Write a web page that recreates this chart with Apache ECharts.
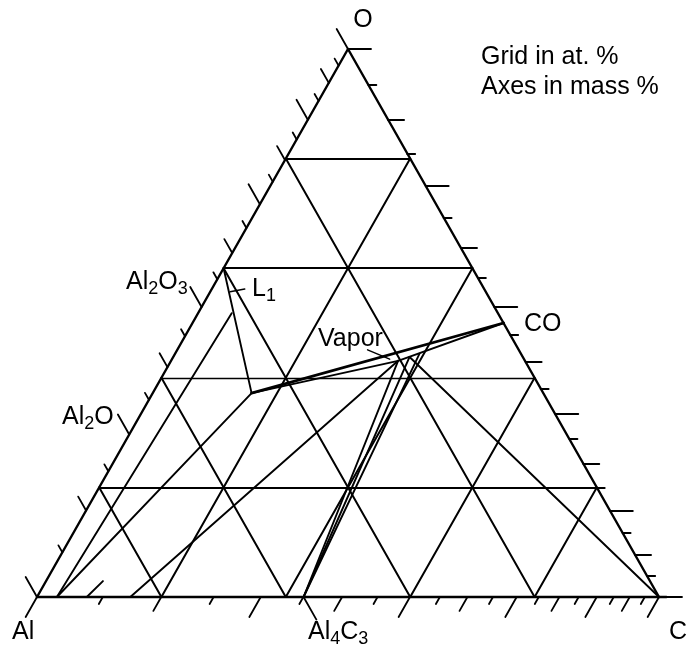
<!DOCTYPE html>
<html><head><meta charset="utf-8">
<script src="https://cdn.jsdelivr.net/npm/echarts@6/dist/echarts.min.js"></script>
<style>html,body{margin:0;padding:0;background:#fff}#c{width:690px;height:647px}</style>
</head><body><div id="c"></div>
<script>
// Compositions as atomic fractions [C, O]; Al = 1 - C - O
const vertexAl = [0, 0];
const vertexC = [1, 0];
const vertexO = [0, 1];
const gridLevels = [0.2, 0.4, 0.6, 0.8];
const thinGridLevelO = 0.4;

const pAl2O3 = [0, 0.6];
const pCO = [0.5, 0.5];
const pAl4C3 = [3 / 7, 0];
const pL1 = [0.159, 0.372];
const pV1 = [0.365, 0.431];
const pV2 = [0.380, 0.438];
const pV3 = [0.393, 0.444];
const pLq = [0.054, 0.518];
const pS1 = [0.032, 0];
const pS2 = [0.150, 0];
const pS3a = [0.080, 0];
const pS3b = [0.0915, 0.029];

const tieLines = [
  [pAl2O3, pL1], [pS1, pLq], [pS1, pL1], [pS2, pV1],
  [pL1, pV1], [pV1, pCO],
  [pAl4C3, pV1], [pAl4C3, pV2], [pAl4C3, pV3],
  [pV2, vertexC], [pS3a, pS3b]
];
const boldTieLines = [[pL1, pCO]];
const leaderLines = [
  [[0.032, 0.557], [0.053, 0.562]],   // L1 label
  [[0.306, 0.451], [0.350, 0.434]]    // Vapor label
];

// axis ticks in mass %
const massTicks = [0,5,10,15,20,25,30,35,40,45,50,55,60,65,70,75,80,85,90,95,100];
const atomicMass = { Al: 26.982, C: 12.011, O: 15.999 };

function massToAt(w, a, b) { // atomic fraction of element a in binary a-b
  const na = w / atomicMass[a], nb = (1 - w) / atomicMass[b];
  return na / (na + nb);
}
function tern(p) { return [p[0] + p[1] / 2, p[1]]; }
function seg(a, b) { return { coords: [tern(a), tern(b)] }; }

const gridSegs = [], thinGridSegs = [];
gridLevels.forEach(k => {
  (k === thinGridLevelO ? thinGridSegs : gridSegs).push(seg([0, k], [1 - k, k]));
  gridSegs.push(seg([k, 0], [k, 1 - k]));
  gridSegs.push(seg([0, 1 - k], [1 - k, 0]));
});
const outline = [seg(vertexAl, [1.012, 0]), seg(vertexC, vertexO), seg(vertexO, vertexAl)];

const PXU = 631; // pixels per ternary unit along tick directions
function tickLen(v) { return (v % 20 === 0 ? 23 : v % 10 === 0 ? 16 : 8) / PXU; }
const tickSegs = [];
massTicks.forEach(v => {
  const w = v / 100, L = tickLen(v);
  const c = massToAt(w, 'C', 'Al');
  tickSegs.push(seg([c, 0], [c, -L]));
  const o = massToAt(w, 'O', 'Al');
  tickSegs.push(seg([0, o], [-L, o + L]));
  const cc = massToAt(w, 'C', 'O');
  const Lr = L * PXU / 622;
  tickSegs.push(seg([cc, 1 - cc], [cc + Lr, 1 - cc]));
});
tickSegs.push(seg(pAl4C3, [pAl4C3[0] + 26 / PXU, -26 / PXU]));

const chart = echarts.init(document.getElementById('c'));
const col = '#000';
function linesSeries(data, width) {
  return {
    type: 'lines', coordinateSystem: 'cartesian2d', polyline: false,
    silent: true, data: data,
    lineStyle: { color: col, width: width, opacity: 1, cap: 'round' }
  };
}
const font = 'Liberation Sans, Arial, sans-serif';
const rich = {
  n: { fontSize: 25, fontFamily: font, lineHeight: 32, fill: col },
  s: { fontSize: 18, fontFamily: font, lineHeight: 14, verticalAlign: 'bottom', fill: col }
};
function label(x, y, text, align, size) {
  return {
    type: 'text', x: x, y: y, silent: true,
    style: {
      text: text, rich: rich, fill: col,
      font: (size || 25) + 'px ' + font,
      align: align || 'left', verticalAlign: 'middle',
      textAlign: align || 'left', textVerticalAlign: 'middle'
    }
  };
}

chart.setOption({
  animation: false,
  backgroundColor: '#fff',
  grid: { left: 0, right: 0, top: 0, bottom: 0 },
  xAxis: { type: 'value', min: -37 / 622, max: 653 / 622, show: false },
  yAxis: { type: 'value', min: -50 / 548, max: 597 / 548, show: false },
  series: [
    linesSeries(outline, 2.4),
    linesSeries(gridSegs, 2),
    linesSeries(thinGridSegs, 1.4),
    linesSeries(tickSegs, 1.8),
    linesSeries(tieLines.map(t => seg(t[0], t[1])), 1.9),
    linesSeries(boldTieLines.map(t => seg(t[0], t[1])), 2.8),
    linesSeries(leaderLines.map(t => seg(t[0], t[1])), 1.5)
  ],
  graphic: [
    label(363, 20, '{n|O}', 'center'),
    label(481, 57, '{n|Grid in at. %}'),
    label(481, 87, '{n|Axes in mass %}'),
    label(126, 282, '{n|Al}{s|2}{n|O}{s|3}'),
    label(62, 417, '{n|Al}{s|2}{n|O}'),
    label(252, 289, '{n|L}{s|1}'),
    label(318, 339, '{n|Vapor}'),
    label(524, 324, '{n|CO}'),
    label(12, 632, '{n|Al}'),
    label(308, 632, '{n|Al}{s|4}{n|C}{s|3}'),
    label(669, 632, '{n|C}')
  ]
});
</script>
</body></html>
